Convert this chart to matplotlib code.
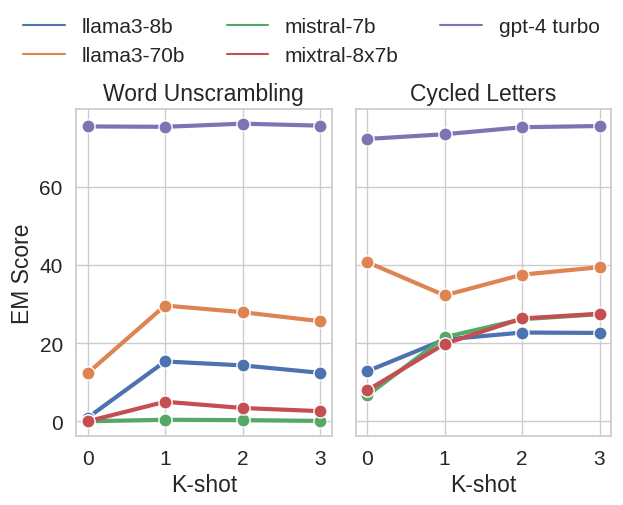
import matplotlib
matplotlib.use("Agg")
import matplotlib.pyplot as plt
import seaborn as sns
from matplotlib.lines import Line2D

kshot = [0, 1, 2, 3]
models = ["llama3-8b", "llama3-70b", "mistral-7b", "mixtral-8x7b", "gpt-4 turbo"]
tasks = ["Word Unscrambling", "Cycled Letters"]

word_unscrambling = {
    "llama3-8b": [0.9, 15.3, 14.3, 12.4],
    "llama3-70b": [12.3, 29.6, 27.9, 25.6],
    "mistral-7b": [0.0, 0.4, 0.3, 0.1],
    "mixtral-8x7b": [0.0, 5.0, 3.4, 2.6],
    "gpt-4 turbo": [75.4, 75.3, 76.1, 75.6],
}
cycled_letters = {
    "llama3-8b": [12.8, 20.9, 22.7, 22.6],
    "llama3-70b": [40.7, 32.2, 37.5, 39.4],
    "mistral-7b": [6.6, 21.5, 26.1, 27.4],
    "mixtral-8x7b": [7.9, 19.8, 26.3, 27.5],
    "gpt-4 turbo": [72.2, 73.4, 75.2, 75.5],
}
data = [word_unscrambling, cycled_letters]

sns.set_theme(style="whitegrid")
plt.rcParams['font.family'] = ['Liberation Sans', 'DejaVu Sans']
colors = sns.color_palette("deep")

fig, axes = plt.subplots(1, 2, figsize=(6.23, 5.06), dpi=100, sharey=True)
fig.subplots_adjust(left=0.122, right=0.981, top=0.783, bottom=0.136, wspace=0.094)

for ax, task, d in zip(axes, tasks, data):
    for i, m in enumerate(models):
        ax.plot(kshot, d[m], color=colors[i], lw=3.0, marker="o", markersize=9.5,
                markeredgecolor="white", markeredgewidth=1.0, label=m)
    ax.set_title(task, fontsize=16.5)
    ax.set_xlabel("K-shot", fontsize=16.5, labelpad=3)
    ax.set_xticks(kshot)
    ax.tick_params(labelsize=15)
axes[0].set_ylabel("EM Score", fontsize=16.5)
axes[0].set_yticks([0, 20, 40, 60])

handles = [Line2D([], [], color=colors[i], lw=1.5) for i in range(len(models))]
fig.legend(handles, models, ncol=3, frameon=False, fontsize=15,
           loc="center", bbox_to_anchor=(0.5, 1 - 42 / 506))

fig.savefig("out.png", dpi=100)
